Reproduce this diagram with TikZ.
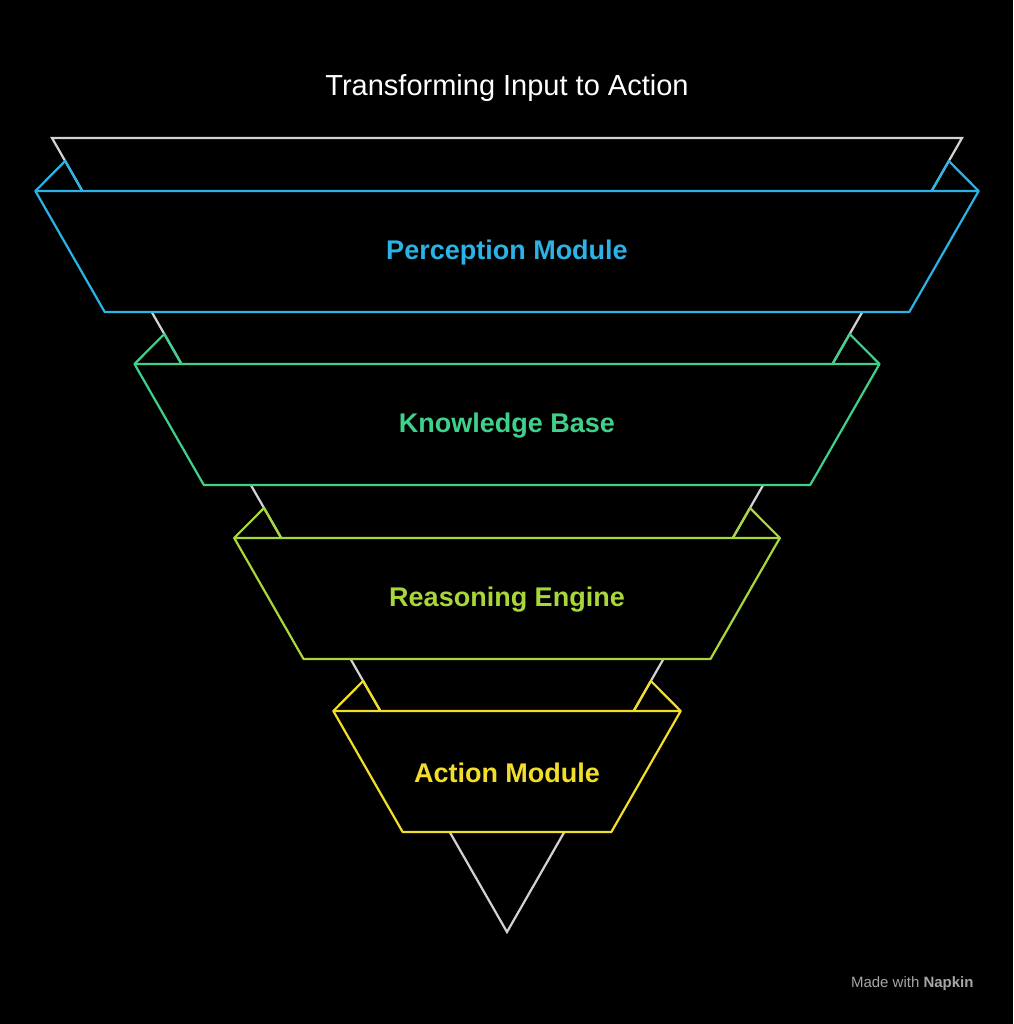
\documentclass[tikz,border=0pt]{standalone}
\usepackage{fontspec}
\setmainfont{Liberation Sans}
\begin{document}
\begin{tikzpicture}[x=1pt,y=-1pt,line width=2.2pt,line join=miter,
  funnel/.style={draw=gray!35},
  band/.style={fill=black,line join=round},
  lbl/.style={font=\bfseries\fontsize{27}{30}\selectfont}]
\definecolor{cA}{HTML}{2BB3E6}
\definecolor{cB}{HTML}{3FD08A}
\definecolor{cC}{HTML}{A8D63B}
\definecolor{cD}{HTML}{F2DE2A}
\fill[black] (0,0) rectangle (1013,1024);
\useasboundingbox (0,0) rectangle (1013,1024);
\node[white,font=\fontsize{29}{32}\selectfont] (title) at (507,88) {Transforming Input to Action};
\coordinate (fl) at (52,138); \coordinate (fr) at (962,138); \coordinate (fa) at (507,932);
\draw[funnel] (fl) -- (fr) -- (fa) -- cycle;
\newcommand{\band}[4]{%
  \pgfmathsetmacro{\ytop}{#1}\pgfmathsetmacro{\ybot}{#1+121}%
  \pgfmathsetmacro{\year}{#1-30}%
  \pgfmathsetmacro{\lt}{52+0.573*(\ytop-138)}\pgfmathsetmacro{\rt}{962-0.573*(\ytop-138)}%
  \pgfmathsetmacro{\le}{52+0.573*(\year-138)}\pgfmathsetmacro{\re}{962-0.573*(\year-138)}%
  \pgfmathsetmacro{\lb}{52+0.573*(\ybot-138)}\pgfmathsetmacro{\rb}{962-0.573*(\ybot-138)}%
  \draw[band,draw=#2] (\lt-47,\ytop) -- (\rt+47,\ytop) -- (\rb+47,\ybot) -- (\lb-47,\ybot) -- cycle;
  \draw[draw=#2,line join=round] (\lt-47,\ytop) -- (\le,\year) -- (\lt,\ytop);
  \draw[draw=#2,line join=round] (\rt+47,\ytop) -- (\re,\year) -- (\rt,\ytop);
  \node[lbl,text=#2] (#3) at (507,\ytop+62) {#4};}
\band{191}{cA}{perc}{Perception Module}
\band{364}{cB}{know}{Knowledge Base}
\band{538}{cC}{reas}{Reasoning Engine}
\band{711}{cD}{act}{Action Module}
\node[gray!70,font=\fontsize{15}{17}\selectfont,anchor=east] (napkin) at (978,984) {Made with \textbf{Napkin}};
\end{tikzpicture}
\end{document}
